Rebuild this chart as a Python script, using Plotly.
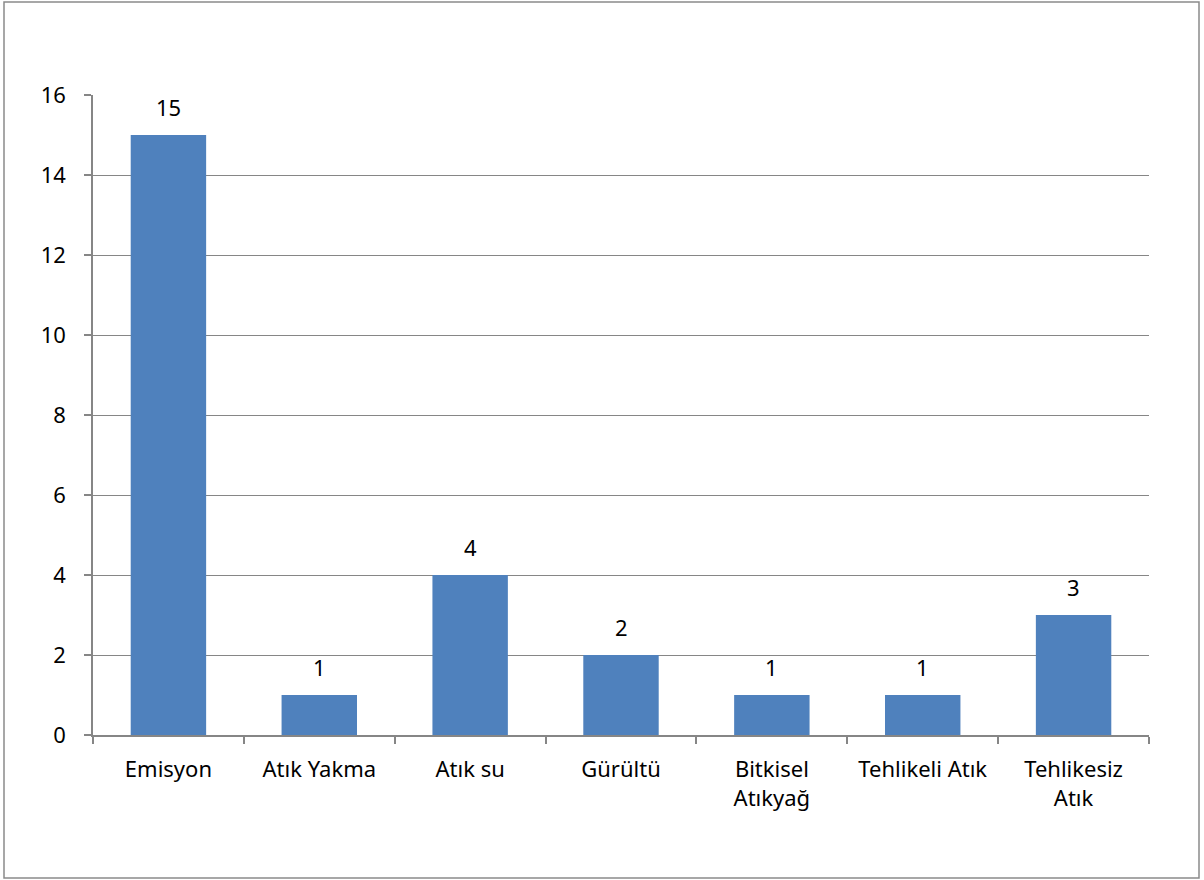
import plotly.graph_objects as go

categories = ["Emisyon", "Atık Yakma", "Atık su", "Gürültü", "Bitkisel<br>Atıkyağ", "Tehlikeli Atık", "Tehlikesiz<br>Atık"]
values = [15, 1, 4, 2, 1, 1, 3]
y_ticks = [0, 2, 4, 6, 8, 10, 12, 14, 16]

W, H = 1204, 880
L, R, T, B = 93, 55, 95, 145
pw, ph = W - L - R, H - T - B
FS = 22
FONT = "Noto Sans"

def px_x(x):
    return (x - L) / pw

def px_y(y):
    return (H - B - y) / ph

fig = go.Figure(go.Bar(
    x=categories, y=values,
    marker=dict(color="#4F81BD", line=dict(width=0)),
    cliponaxis=False,
))

for c, v in zip(categories, values):
    fig.add_annotation(
        x=c, y=v, text=str(v), showarrow=False,
        yanchor="bottom", yshift=11,
        font=dict(size=FS, family=FONT, color="#000000"),
    )

fig.update_layout(
    width=W, height=H,
    margin=dict(l=L, r=R, t=T, b=B),
    paper_bgcolor="white", plot_bgcolor="white",
    bargap=0.5, showlegend=False,
    font=dict(family=FONT, size=FS, color="#000000"),
    xaxis=dict(
        showline=True, linecolor="#868686", linewidth=1.5,
        ticks="outside", ticklen=7, tickcolor="#868686", tickwidth=1.5,
        tickson="boundaries", showgrid=False,
        ticklabelstandoff=14,
        tickfont=dict(size=FS, family=FONT),
    ),
    yaxis=dict(
        range=[0, 16], tickvals=y_ticks,
        showline=True, linecolor="#868686", linewidth=1.5,
        ticks="outside", ticklen=7, tickcolor="#868686", tickwidth=1.5,
        showgrid=True, gridcolor="#868686", gridwidth=1.2,
        zeroline=False,
        ticklabelstandoff=14,
        tickfont=dict(size=FS, family=FONT),
    ),
    shapes=[dict(
        type="rect", xref="paper", yref="paper",
        x0=px_x(4), x1=px_x(1199), y0=px_y(878), y1=px_y(2),
        line=dict(color="#8a8a8a", width=1.5), fillcolor="rgba(0,0,0,0)",
        layer="below",
    )],
)

fig.write_html("out.html")
